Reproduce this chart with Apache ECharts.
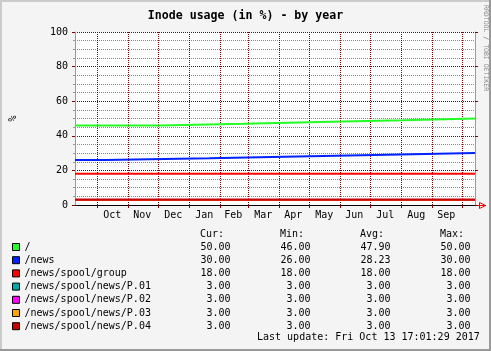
<!DOCTYPE html>
<html>
<head>
<meta charset="utf-8">
<script src="https://cdn.jsdelivr.net/npm/echarts@6/dist/echarts.min.js"></script>
<style>
  html, body { margin: 0; padding: 0; background: #f4f4f4; }
  #chart { width: 491px; height: 351px; }
</style>
</head>
<body>
<div id="chart"></div>
<script>
document.addEventListener('DOMContentLoaded', function() {

    // time window of the "by year" graph (400 days up to the last update)
    const startTime = '2016-09-08 17:01';
    const endTime = '2017-10-13 17:01';

    const monthStarts = ['2016-10-01', '2016-11-01', '2016-12-01', '2017-01-01', '2017-02-01', '2017-03-01',
        '2017-04-01', '2017-05-01', '2017-06-01', '2017-07-01', '2017-08-01', '2017-09-01', '2017-10-01'];
    const monthLabelDates = ['2016-10-16', '2016-11-15', '2016-12-16', '2017-01-16', '2017-02-14', '2017-03-16',
        '2017-04-15', '2017-05-16', '2017-06-15', '2017-07-16', '2017-08-16', '2017-09-15'];
    const monthLabels = ['Oct', 'Nov', 'Dec', 'Jan', 'Feb', 'Mar', 'Apr', 'May', 'Jun', 'Jul', 'Aug', 'Sep'];

    const yTicks = [0, 20, 40, 60, 80, 100];

    // series: dates where the value changes, and the value from that date on
    const seriesNames = ['/', '/news', '/news/spool/group', '/news/spool/news/P.01',
        '/news/spool/news/P.02', '/news/spool/news/P.03', '/news/spool/news/P.04'];
    const rootDates = [startTime, '2016-12-02', '2017-02-25', '2017-05-11', '2017-08-03', endTime];
    const rootValues = [46, 47, 48, 49, 50, 50];
    const newsDates = [startTime, '2016-10-09', '2017-01-21', '2017-04-19', '2017-07-18', endTime];
    const newsValues = [26, 27, 28, 29, 30, 30];
    const flatDates = [startTime, endTime];
    const groupValues = [18, 18];
    const p01Values = [3, 3];
    const p02Values = [3, 3];
    const p03Values = [3, 3];
    const p04Values = [3, 3];

    // legend statistics
    const curVals = ['50.00', '30.00', '18.00', '3.00', '3.00', '3.00', '3.00'];
    const minVals = ['46.00', '26.00', '18.00', '3.00', '3.00', '3.00', '3.00'];
    const avgVals = ['47.90', '28.23', '18.00', '3.00', '3.00', '3.00', '3.00'];
    const maxVals = ['50.00', '30.00', '18.00', '3.00', '3.00', '3.00', '3.00'];
    const lastUpdate = 'Last update: Fri Oct 13 17:01:29 2017';

    const colors = ['#22ff22', '#0022ff', '#ff0000', '#00aaaa', '#ff00ff', '#ffa500', '#cc0000'];
    const mono = '"DejaVu Sans Mono", monospace';
    const gridRed = '#800000';

    const toTime = (s) => echarts.number.parseDate(s).getTime();
    const pairs = (dates, values) => dates.map((d, i) => [toTime(d), values[i]]);

    const seriesData = [
        pairs(rootDates, rootValues),
        pairs(newsDates, newsValues),
        pairs(flatDates, groupValues),
        pairs(flatDates, p01Values),
        pairs(flatDates, p02Values),
        pairs(flatDates, p03Values),
        pairs(flatDates, p04Values)
    ];

    const labelTimes = monthLabelDates.map(toTime);

    const chart = echarts.init(document.getElementById('chart'));

    chart.setOption({
        animation: false,
        backgroundColor: '#f4f4f4',
        color: colors,
        title: {
            text: 'Inode usage (in %) - by year',
            left: 'center',
            top: 5,
            textStyle: {fontFamily: mono, fontSize: 11.6, fontWeight: 'bold', color: '#000'}
        },
        grid: {left: 75, right: 16, top: 32, bottom: 146, show: true, backgroundColor: '#fff', borderWidth: 0},
        xAxis: {
            type: 'value',
            min: toTime(startTime),
            max: toTime(endTime),
            axisLine: {lineStyle: {color: '#000', width: 1}},
            axisTick: {
                customValues: monthStarts.map(toTime),
                length: 3,
                lineStyle: {color: gridRed}
            },
            axisLabel: {
                customValues: labelTimes,
                formatter: (value) => monthLabels[labelTimes.indexOf(value)],
                fontFamily: mono,
                fontSize: 10,
                color: '#000',
                margin: 5
            },
            splitLine: {show: true, lineStyle: {color: gridRed, type: 'dotted'}}
        },
        yAxis: [
            {
                type: 'value',
                min: yTicks[0],
                max: yTicks[yTicks.length - 1],
                interval: yTicks[1] - yTicks[0],
                name: '%',
                nameLocation: 'middle',
                nameRotate: 90,
                nameGap: 57,
                nameTextStyle: {fontFamily: mono, fontSize: 10, color: '#000'},
                axisLine: {show: true, lineStyle: {color: '#999'}},
                axisTick: {show: true, length: 3, lineStyle: {color: gridRed}},
                minorTick: {show: true, splitNumber: 4, length: 2, lineStyle: {color: '#999'}},
                axisLabel: {fontFamily: mono, fontSize: 10, color: '#000', margin: 7},
                splitLine: {show: true, lineStyle: {color: gridRed, type: 'dotted'}},
                minorSplitLine: {show: true, lineStyle: {color: '#888', type: 'dotted'}}
            },
            {
                type: 'value',
                position: 'right',
                min: yTicks[0],
                max: yTicks[yTicks.length - 1],
                interval: yTicks[1] - yTicks[0],
                axisLine: {show: true, lineStyle: {color: '#999'}},
                axisTick: {show: true, length: 3, lineStyle: {color: gridRed}},
                axisLabel: {show: false},
                splitLine: {show: false}
            }
        ],
        legend: {
            orient: 'vertical',
            left: 12,
            top: 240.5,
            padding: 0,
            itemGap: 0.2,
            itemWidth: 7,
            itemHeight: 7,
            icon: 'rect',
            selectedMode: false,
            itemStyle: {borderColor: '#000', borderWidth: 1},
            data: seriesNames,
            formatter: (name) => {
                const i = seriesNames.indexOf(name);
                return '{n|' + name + '}{c|' + curVals[i] + '}{m|' + minVals[i] + '}{a|' + avgVals[i] + '}{x|' + maxVals[i] + '}';
            },
            textStyle: {
                fontFamily: mono,
                fontSize: 10,
                color: '#000',
                lineHeight: 13,
                rich: {
                    n: {width: 152, fontFamily: mono, fontSize: 10, lineHeight: 13},
                    c: {width: 54, align: 'right', fontFamily: mono, fontSize: 10, lineHeight: 13},
                    m: {width: 80, align: 'right', fontFamily: mono, fontSize: 10, lineHeight: 13},
                    a: {width: 80, align: 'right', fontFamily: mono, fontSize: 10, lineHeight: 13},
                    x: {width: 80, align: 'right', fontFamily: mono, fontSize: 10, lineHeight: 13}
                }
            }
        },
        graphic: [
            {type: 'rect', shape: {x: 0, y: 0, width: 491, height: 2}, style: {fill: '#cbcbcb'}, silent: true},
            {type: 'rect', shape: {x: 0, y: 0, width: 2, height: 351}, style: {fill: '#cbcbcb'}, silent: true},
            {type: 'rect', shape: {x: 489, y: 0, width: 2, height: 351}, style: {fill: '#999'}, silent: true},
            {type: 'rect', shape: {x: 0, y: 349, width: 491, height: 2}, style: {fill: '#999'}, silent: true},
            {type: 'polyline', shape: {points: [[475, 205.5], [486, 205.5]]}, style: {stroke: '#ff0000', lineWidth: 1}, silent: true},
            {type: 'polygon', shape: {points: [[479.5, 202.5], [485.5, 205.5], [479.5, 208.5]]},
                style: {stroke: '#ff0000', fill: 'none', lineWidth: 1}, silent: true},
            {type: 'text', x: 486, y: 5, rotation: -Math.PI / 2,
                style: {text: 'RRDTOOL / TOBI OETIKER', font: '6.5px ' + mono, fill: '#888', textAlign: 'left', textVerticalAlign: 'middle'}},
            {type: 'text', x: 200, y: 234, style: {text: 'Cur:', font: '10px ' + mono, fill: '#000', textVerticalAlign: 'middle'}},
            {type: 'text', x: 280, y: 234, style: {text: 'Min:', font: '10px ' + mono, fill: '#000', textVerticalAlign: 'middle'}},
            {type: 'text', x: 360, y: 234, style: {text: 'Avg:', font: '10px ' + mono, fill: '#000', textVerticalAlign: 'middle'}},
            {type: 'text', x: 440, y: 234, style: {text: 'Max:', font: '10px ' + mono, fill: '#000', textVerticalAlign: 'middle'}},
            {type: 'text', x: 257, y: 337, style: {text: lastUpdate, font: '10px ' + mono, fill: '#000', textVerticalAlign: 'middle'}}
        ],
        series: seriesNames.map((name, i) => ({
            name: name,
            type: 'line',
            step: 'end',
            data: seriesData[i],
            showSymbol: false,
            symbol: 'none',
            lineStyle: {width: 2, color: colors[i]},
            itemStyle: {color: colors[i]},
            emphasis: {disabled: true}
        }))
    });

});
</script>
</body>
</html>
